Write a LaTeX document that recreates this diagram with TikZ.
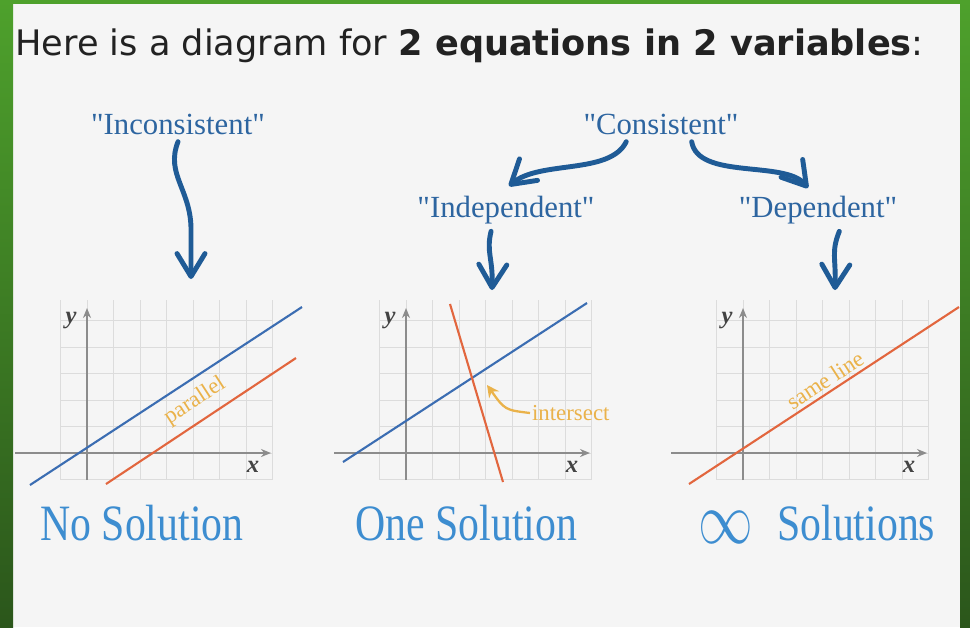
\documentclass[tikz,border=0pt]{standalone}
\usepackage{graphicx}
\usepackage{fontspec}
\setmainfont{Liberation Serif}
\setsansfont{DejaVu Sans}
\usetikzlibrary{arrows.meta}
\definecolor{eqpanel}{HTML}{F5F5F5}
\definecolor{eqgreen}{HTML}{4EA12C}
\definecolor{eqgreendk}{HTML}{2B561B}
\definecolor{eqink}{HTML}{222222}
\definecolor{eqnavy}{HTML}{2D65A0}
\definecolor{eqarrow}{HTML}{1F5B96}
\definecolor{eqsky}{HTML}{3D8DD0}
\definecolor{eqblue}{HTML}{3B6DB2}
\definecolor{eqred}{HTML}{E2663E}
\definecolor{eqgold}{HTML}{EAB24A}
\definecolor{eqgrid}{HTML}{DCDCDC}
\definecolor{eqaxis}{HTML}{8C8C8C}
\newcommand\narrow[1]{\scalebox{0.82}[1]{#1}}
\newcommand\qtd[1]{\textquotedbl#1\textquotedbl}
\tikzset{
  tag/.style={font=\fontsize{17.5}{20}\selectfont, text=eqnavy, inner sep=4pt},
  sol/.style={font=\fontsize{29}{32}\selectfont, text=eqsky, anchor=base west, inner sep=0pt},
  note/.style={font=\fontsize{13}{15}\selectfont, text=eqgold, inner sep=1pt},
  axlbl/.style={font=\fontsize{14}{16}\selectfont\bfseries\itshape, text=eqink!85, inner sep=1pt},
  flow/.style={-{Straight Barb[length=4.6mm, width=5.6mm, round]}, line width=2.8pt, color=eqarrow, line cap=round},
  goldarr/.style={-{Stealth[length=2.4mm, width=2.4mm]}, line width=1.3pt, color=eqgold},
  gline/.style={line width=1.2pt},
  gridln/.style={draw=eqgrid, line width=0.5pt},
  axis/.style={draw=eqaxis, line width=1.1pt, -{Stealth[length=2mm, width=1.6mm]}},
}

\begin{document}
\begin{tikzpicture}[x=0.02cm, y=-0.02cm]
    \useasboundingbox (0,0) rectangle (970,627);
    % frame
    \fill[eqpanel] (0,0) rectangle (970,627);
    \shade[top color=eqgreen, bottom color=eqgreendk] (0,0) rectangle (13,627);
    \shade[top color=eqgreen, bottom color=eqgreendk] (960,0) rectangle (970,627);
    \fill[eqgreen] (0,0) rectangle (970,4);
    \node[anchor=base west, inner sep=0pt, font=\sffamily\fontsize{20}{24}\selectfont, text=eqink] (title) at (15,55) {Here is a diagram for \textbf{2 equations in 2 variables}:};
    % labels
    \node[tag] (inc) at (178,124) {\qtd{Inconsistent}};
    \node[tag] (con) at (661,124) {\qtd{Consistent}};
    \node[tag] (ind) at (506,210) {\qtd{Independent}};
    \node[tag] (dep) at (818,210) {\qtd{Dependent}};
    \coordinate (incto) at (191,279);
    \coordinate (indto) at (509,186);
    \coordinate (depto) at (808,188);
    \coordinate (indgr) at (492,290);
    \coordinate (depgr) at (835,290);
    \draw[flow] (inc.south) .. controls (165,175) and (192,190) .. (191,232) -- (incto);
    \draw[flow] (con.207) .. controls (610,175) and (540,160) .. (indto);
    \draw[flow] (con.330) .. controls (698,180) and (785,160) .. (depto);
    \draw[flow] (ind.235) .. controls (486,252) and (493,258) .. (indgr);
    \draw[flow] (dep.315) .. controls (831,252) and (836,258) .. (depgr);
    % grids and axes
    \foreach \ox in {87,406,743} {
      \foreach \i in {-1,...,7} \draw[gridln] (\ox+26.5*\i,300) -- (\ox+26.5*\i,480);
      \foreach \j in {-5,...,1} \draw[gridln] (\ox-26.5,453+26.5*\j) -- (\ox+185.5,453+26.5*\j);
      \draw[axis] (\ox-72,453) -- (\ox+184,453);
      \draw[axis] (\ox,480) -- (\ox,308);
      \node[axlbl] (ylbl\ox) at (\ox-16,320) {y};
      \node[axlbl] (xlbl\ox) at (\ox+166,467) {x};
    }
    % no solution
    \draw[gline, eqblue] (30,485) -- (302,307);
    \draw[gline, eqred] (106,484) -- (296,358);
    \node[note, rotate=33] (par) at (195,401) {parallel};
    % one solution
    \draw[gline, eqblue] (343,462) -- (587,303);
    \draw[gline, eqred] (450,304) -- (503,482);
    \node[note, anchor=west] (isect) at (530,413) {intersect};
    \coordinate (icross) at (487,385);
    \draw[goldarr] (isect.west) .. controls (505,410) .. (icross);
    % infinitely many
    \draw[gline, eqred] (689,484) -- (959,307);
    \node[note, rotate=33] (same) at (825,380) {same line};
    % results
    \node[sol] (nosol) at (40,540) {\narrow{No Solution}};
    \node[sol] (onesol) at (355,540) {\narrow{One Solution}};
    \node[font=\fontsize{29}{32}\selectfont, text=eqsky, inner sep=0pt] (inf) at (726,527) {\scalebox{1.25}[1.7]{$\infty$}};
    \node[sol] (manysol) at (777,540) {\narrow{Solutions}};
  \end{tikzpicture}
\end{document}
